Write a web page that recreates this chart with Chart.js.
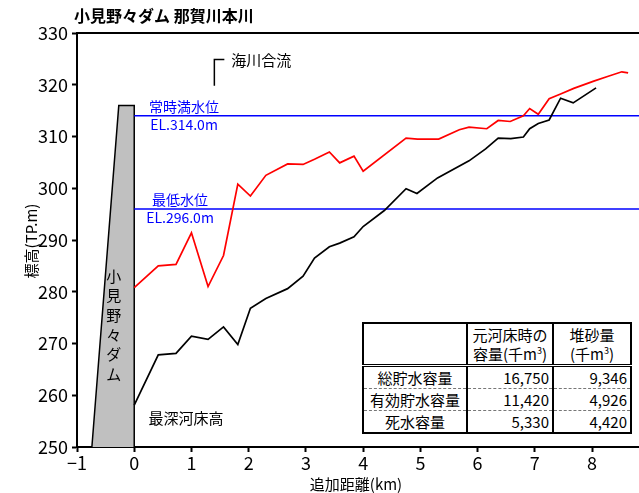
<!DOCTYPE html>
<html>
<head>
<meta charset="utf-8">
<script src="https://cdn.jsdelivr.net/npm/chart.js@4"></script>
<style>
  body { margin: 0; background: #fff; }
  #wrap { position: relative; width: 639px; height: 493px; }
  #vol {
    position: absolute; left: 362px; top: 322px;
    border-collapse: collapse; border: 2px solid #000;
    font-family: 'Noto Sans CJK JP', sans-serif; font-size: 15px; color: #000;
    background: #fff; table-layout: fixed;
  }
  #vol td, #vol th { padding: 0; font-weight: normal; border-left: 2px solid #000; }
  #vol th { height: 40px; line-height: 19px; text-align: center; border-bottom: 3px double #000; }
  #vol td { height: 21px; line-height: 20px; border-bottom: 1px dashed #777; }
  #vol td.n { text-align: right; padding-right: 3px; }
  #vol td.l { text-align: center; }
  #vol tr:last-child td { border-bottom: none; }
  #vol sup { font-size: 9px; line-height: 0; }
</style>
</head>
<body>
<div id="wrap">
  <canvas id="c" width="639" height="493"></canvas>
  <table id="vol">
    <colgroup><col style="width:104px"><col style="width:86px"><col style="width:78px"></colgroup>
    <thead>
      <tr><th></th><th id="h1"></th><th id="h2"></th></tr>
    </thead>
    <tbody id="vb"></tbody>
  </table>
</div>
<script>
// 最深河床高 (black) – distance from dam (km) and elevation (TP.m)
const deepKm = [0, 0.42, 0.73, 1.0, 1.29, 1.56, 1.81, 2.03, 2.30, 2.68, 2.95, 3.15, 3.41, 3.59, 3.84, 4.0,
  4.37, 4.75, 4.94, 5.30, 5.85, 6.14, 6.36, 6.58, 6.80, 6.91, 7.06, 7.25, 7.45, 7.67, 8.07];
const deepBed = [258.1, 267.8, 268.1, 271.4, 270.8, 273.2, 269.8, 276.8, 278.7, 280.6, 283.0, 286.5, 288.7, 289.4, 290.6, 292.6,
  295.7, 299.9, 299.0, 302.0, 305.3, 307.6, 309.7, 309.6, 309.9, 311.5, 312.5, 313.2, 317.4, 316.5, 319.4];

// 元河床高 (red)
const origKm = [0, 0.42, 0.73, 1.0, 1.29, 1.56, 1.81, 2.03, 2.30, 2.68, 2.95, 3.15, 3.41, 3.59, 3.84, 4.0,
  4.75, 4.95, 5.32, 5.68, 5.85, 6.16, 6.36, 6.57, 6.80, 6.91, 7.06, 7.25, 7.45, 7.68, 8.03, 8.27, 8.52, 8.63];
const origBed = [280.8, 285.0, 285.3, 291.4, 281.0, 287.0, 300.8, 298.5, 302.5, 304.7, 304.6, 305.6, 307.0, 304.9, 306.2, 303.3,
  309.7, 309.5, 309.5, 311.3, 311.8, 311.5, 313.1, 312.9, 314.0, 315.4, 314.3, 317.3, 318.2, 319.3, 320.7, 321.6, 322.5, 322.3];

// dam body outline
const damKm = [-0.74, -0.27, 0, 0];
const damEl = [250, 316, 316, 250];

// reservoir levels
const levelNames = ['常時満水位', '最低水位'];
const levelValues = [314.0, 296.0];

// axis ticks
const xTicks = [-1, 0, 1, 2, 3, 4, 5, 6, 7, 8];
const yTicks = [250, 260, 270, 280, 290, 300, 310, 320, 330];

// storage table
const volHeads = [['元河床時の', '容量(千m<sup>3</sup>)'], ['堆砂量', '(千m<sup>3</sup>)']];
const volRows = ['総貯水容量', '有効貯水容量', '死水容量'];
const volOriginal = ['16,750', '11,420', '5,330'];
const volSediment = ['9,346', '4,926', '4,420'];

document.getElementById('h1').innerHTML = volHeads[0].join('<br>');
document.getElementById('h2').innerHTML = volHeads[1].join('<br>');
document.getElementById('vb').innerHTML = volRows.map((r, i) =>
  `<tr><td class="l">${r}</td><td class="n">${volOriginal[i]}</td><td class="n">${volSediment[i]}</td></tr>`).join('');

const pts = (xs, ys) => xs.map((x, i) => ({ x, y: ys[i] }));
const X_MAX = 8.82;

const JP = "'Noto Sans CJK JP', sans-serif";
const NUM = "'Liberation Sans Narrow', 'Noto Sans CJK JP', sans-serif";

const labels = {
  id: 'labels',
  afterDraw(chart) {
    const { ctx, chartArea: a, scales: { x, y } } = chart;
    ctx.save();
    // frame top edge
    ctx.strokeStyle = '#000'; ctx.lineWidth = 2;
    ctx.beginPath(); ctx.moveTo(a.left, a.top); ctx.lineTo(a.right, a.top); ctx.stroke();

    ctx.textBaseline = 'middle';
    // title
    ctx.fillStyle = '#000'; ctx.textAlign = 'left';
    ctx.font = "bold 16px " + JP;
    ctx.fillText('小見野々ダム 那賀川本川', 74, 16);

    // level labels
    ctx.fillStyle = '#0000ff'; ctx.textAlign = 'center';
    const lx = [x.getPixelForValue(0.87), x.getPixelForValue(0.80)];
    levelValues.forEach((v, i) => {
      const py = y.getPixelForValue(v);
      ctx.font = "14px " + JP;
      ctx.fillText(levelNames[i], lx[i], py - 9);
      ctx.font = "14px " + NUM;
      ctx.fillText('EL.' + v.toFixed(1) + 'm', lx[i], py + 9);
    });

    // confluence marker
    ctx.strokeStyle = '#000'; ctx.lineWidth = 1.5;
    const bx = x.getPixelForValue(1.40);
    const bt = y.getPixelForValue(324.9), bb = y.getPixelForValue(319.8);
    ctx.beginPath(); ctx.moveTo(bx, bb); ctx.lineTo(bx, bt); ctx.lineTo(bx + 10, bt); ctx.stroke();
    ctx.fillStyle = '#000'; ctx.textAlign = 'left';
    ctx.font = "15px " + JP;
    ctx.fillText('海川合流', bx + 17, bt + 1);

    // deepest bed label
    ctx.fillText('最深河床高', x.getPixelForValue(0.25), y.getPixelForValue(255.5));

    // dam name, vertical
    ctx.textAlign = 'center';
    const dx = x.getPixelForValue(-0.36);
    '小見野々ダム'.split('').forEach((ch, i) => ctx.fillText(ch, dx, 276 + i * 19.6));

    // axis titles
    ctx.fillText('追加距離(km)', 356, 484);
    ctx.save();
    ctx.translate(31, 241); ctx.rotate(-Math.PI / 2);
    ctx.fillText('標高(TP.m)', 0, 0);
    ctx.restore();
    ctx.restore();
  }
};

new Chart(document.getElementById('c'), {
  type: 'scatter',
  data: {
    datasets: [
      { data: pts(damKm, damEl), showLine: true, fill: 'start', backgroundColor: '#c0c0c0',
        borderColor: '#000', borderWidth: 1.5, pointRadius: 0, tension: 0, order: 3 },
      ...levelValues.map(v => ({ data: [{ x: 0, y: v }, { x: X_MAX, y: v }], showLine: true,
        borderColor: '#0000ff', borderWidth: 1.5, pointRadius: 0, order: 2 })),
      { data: pts(origKm, origBed), showLine: true, borderColor: '#ff0000', borderWidth: 1.7,
        pointRadius: 0, tension: 0, order: 1 },
      { data: pts(deepKm, deepBed), showLine: true, borderColor: '#000', borderWidth: 1.7,
        pointRadius: 0, tension: 0, order: 0 }
    ]
  },
  options: {
    responsive: false, animation: false, events: [],
    layout: { padding: { top: 33, left: 0, right: 0, bottom: 0 } },
    plugins: { legend: { display: false }, tooltip: { enabled: false } },
    scales: {
      x: {
        type: 'linear', min: -1, max: X_MAX,
        afterFit: s => { s.height = 46; },
        afterBuildTicks: s => { s.ticks = xTicks.map(v => ({ value: v })); },
        ticks: { color: '#000', font: { family: NUM, size: 18 }, padding: 0,
          callback: v => String(v).replace('-', '−'), maxRotation: 0, autoSkip: false },
        grid: { drawOnChartArea: false, drawTicks: true, tickLength: 5, tickColor: '#000', tickWidth: 2 },
        border: { color: '#000', width: 2 }
      },
      y: {
        min: 250, max: 330,
        afterFit: s => { s.width = 77; },
        afterBuildTicks: s => { s.ticks = yTicks.map(v => ({ value: v })); },
        ticks: { color: '#000', font: { family: NUM, size: 18 }, padding: 4, autoSkip: false },
        grid: { drawOnChartArea: false, drawTicks: true, tickLength: 5, tickColor: '#000', tickWidth: 2 },
        border: { color: '#000', width: 2 }
      }
    }
  },
  plugins: [labels]
});
</script>
</body>
</html>
